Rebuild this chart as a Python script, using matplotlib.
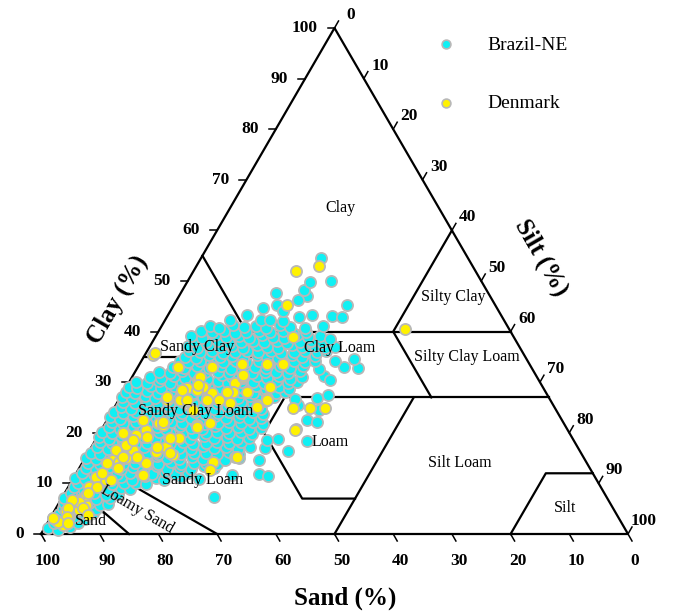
import matplotlib
matplotlib.use("Agg")
import matplotlib.pyplot as plt
import numpy as np

plt.rcParams['font.family'] = ['Liberation Serif', 'DejaVu Serif']

# (clay %, silt %) -- sand = 100 - clay - silt
brazil_pts = [
    (1.2, 0.6), (0.7, 2.5), (1.4, 4.3),
    (2.1, 1.2), (1.9, 3.3), (2.2, 5.2),
    (3.2, 0.4), (2.8, 2.2), (3.4, 4.0), (2.9, 6.1),
    (4.0, 1.0), (3.9, 3.0), (4.2, 5.1), (4.1, 6.8),
    (5.1, 1.2), (4.7, 3.1), (5.3, 5.0), (4.9, 6.9),
    (6.1, 0.8), (5.9, 2.9), (6.2, 5.0), (5.8, 7.1), (6.0, 8.4),
    (7.2, 0.3), (6.8, 2.2), (7.3, 4.1), (6.9, 6.0), (7.1, 8.2), (7.3, 25.9),
    (8.1, 1.1), (7.9, 3.1), (8.2, 5.0), (7.8, 7.1), (8.0, 9.2),
    (9.2, 1.0), (8.7, 3.0), (9.4, 5.1), (8.9, 7.0), (9.1, 9.0), (8.8, 10.8),
    (10.1, 1.2), (9.9, 3.1), (10.2, 5.1), (9.8, 7.2), (10.0, 9.1), (10.1, 11.2), (9.9, 12.9),
    (11.1, 0.3), (10.8, 2.1), (11.3, 4.0), (10.9, 6.2), (11.2, 8.0), (10.7, 10.1),
    (11.4, 12.0), (11.0, 14.1), (10.6, 15.6), (11.2, 18.3), (10.9, 21.4),
    (11.7, 26.7), (11.8, 31.3), (11.5, 33.0),
    (12.1, 1.0), (11.9, 3.1), (12.2, 5.1), (11.8, 7.0), (12.0, 9.2), (12.1, 11.1),
    (11.9, 13.0), (12.2, 15.1), (11.8, 17.0), (12.0, 19.1),
    (13.1, 1.1), (12.8, 3.0), (13.3, 5.0), (12.9, 7.1), (13.2, 9.0), (12.7, 11.0),
    (13.4, 13.1), (12.9, 15.0), (13.2, 17.0), (12.8, 19.2), (13.5, 21.0), (13.0, 23.0),
    (14.1, 1.0), (13.9, 3.1), (14.2, 5.0), (13.8, 7.1), (14.0, 9.0), (14.1, 11.1),
    (13.9, 13.0), (14.2, 15.1), (13.8, 17.0), (14.0, 19.1), (14.1, 21.0), (13.9, 23.1),
    (15.1, 0.2), (14.8, 2.0), (15.3, 4.1), (14.9, 6.0), (15.2, 8.1), (14.7, 10.0),
    (15.4, 12.0), (15.0, 14.0), (14.8, 16.1), (15.3, 18.0), (14.9, 20.1), (15.2, 22.0),
    (14.7, 24.0), (15.0, 26.2), (14.6, 29.8),
    (16.1, 0.4), (15.9, 2.1), (16.2, 4.0), (15.8, 6.1), (16.0, 8.0), (16.1, 10.1),
    (15.9, 12.0), (16.2, 14.1), (15.8, 16.0), (16.0, 18.1), (16.1, 20.0), (15.9, 22.1),
    (16.2, 24.0), (15.8, 25.9),
    (17.2, 1.0), (16.8, 3.0), (17.3, 5.1), (16.9, 7.0), (17.1, 9.0), (16.7, 11.1),
    (17.4, 13.0), (17.0, 15.0), (16.8, 17.1), (17.3, 19.0), (16.9, 21.1), (17.2, 23.0),
    (16.8, 25.2), (17.1, 27.0), (17.0, 29.6), (16.5, 33.8),
    (18.1, 1.0), (17.9, 3.1), (18.2, 5.0), (17.8, 7.1), (18.0, 9.0), (18.1, 11.1),
    (17.9, 13.0), (18.2, 15.1), (17.8, 17.0), (18.0, 19.1), (18.1, 21.0), (17.9, 23.1),
    (18.2, 25.0),
    (19.1, 0.3), (18.8, 2.1), (19.3, 4.0), (18.9, 6.1), (19.2, 8.0), (18.7, 10.0),
    (19.4, 12.1), (19.0, 14.0), (18.8, 16.0), (19.3, 18.1), (18.9, 20.0), (19.2, 22.1),
    (18.7, 24.0), (19.0, 26.0), (18.6, 29.2), (18.8, 31.0), (18.3, 36.2),
    (20.1, 0.4), (19.9, 2.1), (20.2, 4.0), (19.8, 6.1), (20.0, 8.0), (20.1, 10.1),
    (19.9, 12.0), (20.2, 14.1), (19.8, 16.0), (20.0, 18.1), (20.1, 20.0), (19.9, 22.1),
    (20.2, 24.0), (19.8, 26.1),
    (21.1, 1.0), (20.8, 3.1), (21.3, 5.0), (20.9, 7.0), (21.2, 9.1), (20.7, 11.0),
    (21.4, 13.0), (21.0, 15.1), (20.8, 17.0), (21.3, 19.0), (20.9, 21.1), (21.2, 23.0),
    (20.7, 25.0), (21.0, 27.0), (20.8, 33.0),
    (22.1, 1.0), (21.9, 3.1), (22.2, 5.0), (21.8, 7.1), (22.0, 9.0), (22.1, 11.1),
    (21.9, 13.0), (22.2, 15.1), (21.8, 17.0), (22.0, 19.1), (22.1, 21.0), (21.9, 23.1),
    (22.2, 25.0), (21.8, 26.9),
    (23.1, 0.2), (22.8, 2.0), (23.3, 4.1), (22.9, 6.0), (23.2, 8.0), (22.7, 10.1),
    (23.4, 12.0), (23.0, 14.0), (22.8, 16.1), (23.3, 18.0), (22.9, 20.0), (23.2, 22.1),
    (22.7, 24.0), (23.0, 26.0), (22.5, 34.1), (22.2, 36.0),
    (24.1, 0.4), (23.9, 2.1), (24.2, 4.0), (23.8, 6.1), (24.0, 8.0), (24.1, 10.1),
    (23.9, 12.0), (24.2, 14.1), (23.8, 16.0), (24.0, 18.1), (24.1, 20.0), (23.9, 22.1),
    (24.2, 24.0), (23.8, 25.9),
    (25.1, 1.0), (24.8, 3.0), (25.3, 5.1), (24.9, 7.0), (25.2, 9.0), (24.7, 11.1),
    (25.4, 13.0), (25.0, 15.0), (24.8, 17.0), (25.3, 19.1), (24.9, 21.0), (25.2, 23.0),
    (24.7, 25.1), (25.5, 31.0), (24.6, 35.0),
    (26.1, 1.0), (25.9, 3.1), (26.2, 5.0), (25.8, 7.1), (26.0, 9.0), (26.1, 11.1),
    (25.9, 13.0), (26.2, 15.1), (25.8, 17.0), (26.0, 19.1), (26.1, 21.0), (25.9, 23.1),
    (26.2, 25.0),
    (27.1, 0.2), (26.8, 2.1), (27.3, 4.0), (26.9, 6.0), (27.2, 8.1), (26.7, 10.0),
    (27.4, 12.0), (27.0, 14.1), (26.8, 16.0), (27.3, 18.0), (26.9, 20.1), (27.2, 22.0),
    (26.7, 24.0), (27.0, 26.2), (26.6, 30.0), (26.8, 33.6), (27.5, 35.2),
    (28.1, 0.4), (27.9, 2.1), (28.2, 4.0), (27.8, 6.1), (28.0, 8.0), (28.1, 10.1),
    (27.9, 12.0), (28.2, 14.1), (27.8, 16.0), (28.0, 18.1), (28.1, 20.0), (27.9, 22.1),
    (28.2, 24.0), (27.8, 26.1), (28.0, 27.6),
    (29.1, 0.4), (28.8, 2.0), (29.3, 4.1), (28.9, 6.0), (29.2, 8.0), (28.7, 10.1),
    (29.4, 12.0), (29.0, 14.0), (28.8, 16.1), (29.3, 18.0), (28.9, 20.0), (29.2, 22.1),
    (28.7, 24.0), (29.0, 26.0), (28.6, 28.0),
    (30.1, 1.2), (29.9, 3.1), (30.2, 5.0), (29.8, 7.1), (30.0, 9.0), (30.1, 11.1),
    (29.9, 13.0), (30.2, 15.1), (29.8, 17.0), (30.0, 19.1), (30.1, 21.0), (29.9, 23.1),
    (30.2, 25.0), (29.8, 27.1), (30.0, 28.6),
    (31.1, 3.0), (30.8, 5.0), (31.3, 7.0), (30.9, 9.1), (31.2, 11.0), (30.7, 13.0),
    (31.4, 15.1), (31.0, 17.0), (30.8, 19.0), (31.3, 21.1), (30.9, 23.0), (31.2, 25.0),
    (30.7, 27.1), (31.0, 29.0), (31.2, 32.6), (30.5, 34.0),
    (32.1, 4.0), (31.9, 6.1), (32.2, 8.0), (31.8, 10.1), (32.0, 12.0), (32.1, 14.1),
    (31.9, 16.0), (32.2, 18.1), (31.8, 20.0), (32.0, 22.1), (32.1, 24.0), (31.9, 26.1),
    (32.2, 28.0),
    (33.1, 6.0), (32.8, 8.0), (33.3, 10.0), (32.9, 12.1), (33.2, 14.0), (32.7, 16.0),
    (33.4, 18.1), (33.0, 20.0), (32.8, 22.0), (33.3, 24.1), (32.9, 26.0), (33.2, 28.0),
    (32.6, 31.0), (33.1, 35.0), (32.8, 37.6),
    (34.1, 6.6), (33.9, 8.1), (34.2, 10.0), (33.8, 12.1), (34.0, 14.0), (34.1, 16.1),
    (33.9, 18.0), (34.2, 20.1), (33.8, 22.0), (34.0, 24.1), (34.1, 26.0), (33.9, 28.1),
    (34.2, 29.5),
    (35.0, 7.0), (34.8, 9.0), (35.3, 11.0), (34.9, 13.1), (35.2, 15.0), (34.7, 17.0),
    (35.4, 19.1), (35.0, 21.0), (34.8, 23.0), (35.3, 25.1), (34.9, 27.0), (35.2, 29.0),
    (34.2, 33.0), (34.5, 36.0),
    (36.1, 7.2), (35.9, 9.1), (36.2, 11.0), (35.8, 13.1), (36.0, 15.0), (36.1, 17.1),
    (35.9, 19.0), (36.2, 21.1), (35.8, 23.0), (36.0, 25.1), (36.1, 27.0), (35.9, 29.1),
    (36.2, 30.4),
    (37.1, 6.5), (36.8, 8.2), (37.3, 10.0), (36.9, 12.1), (37.2, 14.0), (36.7, 16.0),
    (37.4, 18.1), (37.0, 20.0), (36.8, 22.0), (37.3, 24.1), (36.9, 26.0), (37.2, 28.0),
    (36.7, 30.0), (37.0, 31.6),
    (38.1, 7.0), (37.9, 9.1), (38.2, 11.0), (37.8, 13.1), (38.0, 15.0), (38.1, 17.1),
    (37.9, 19.0), (38.2, 21.1), (37.8, 23.0), (38.0, 25.1), (38.1, 27.0), (37.9, 29.0),
    (39.1, 6.0), (38.8, 8.1), (39.3, 10.0), (38.9, 12.0), (39.2, 14.1), (38.7, 16.0),
    (39.4, 18.0), (39.0, 20.1), (38.8, 22.0), (39.3, 24.0), (38.9, 26.1), (39.2, 28.0),
    (38.6, 30.0),
    (40.1, 7.2), (39.9, 9.1), (40.2, 11.0), (39.8, 13.1), (40.0, 15.0), (40.1, 17.1),
    (39.9, 19.0), (40.2, 21.1), (39.8, 23.0), (40.0, 25.1),
    (41.1, 8.2), (40.8, 10.0), (41.3, 12.0), (40.9, 14.1), (41.2, 16.0), (40.7, 18.0),
    (41.4, 20.1), (41.0, 22.0), (40.8, 24.6), (41.2, 27.5),
    (42.3, 11.1), (42.3, 16.4), (42.3, 17.9), (42.1, 20.2), (43.3, 24.6), (43.1, 28.1),
    (42.9, 29.9), (43.2, 13.5), (42.8, 22.5),
    (45.3, 17.6), (44.1, 19.2), (45.3, 29.5), (44.6, 15.5),
    (47.6, 16.2), (47.0, 21.8), (46.2, 20.7), (48.2, 20.7),
    (49.8, 20.9), (50.0, 24.4), (54.5, 20.4),
]

denmark_pts = [
    (2.8, 1.2), (1.8, 2.8), (3.4, 3.1), (4.7, 4.1), (5.7, 4.8), (4.5, 2.0),
    (6.7, 3.1), (7.7, 3.8), (9.3, 3.5), (10.3, 4.6), (10.7, 5.7), (11.3, 3.7),
    (14.6, 5.0), (14.2, 6.2), (15.0, 7.0), (16.6, 7.4), (17.6, 5.7), (16.6, 4.5),
    (20.0, 4.0), (19.6, 6.4), (20.6, 7.6), (16.2, 11.5), (17.2, 12.7), (15.6, 14.7),
    (19.0, 14.0), (14.0, 10.9), (11.7, 11.6), (21.9, 9.1),
    (35.4, 1.4), (33.0, 6.8), (30.4, 11.5), (28.9, 10.5), (33.0, 12.6), (29.0, 13.1),
    (29.8, 18.1), (28.1, 21.1), (26.5, 8.3), (26.5, 10.5), (26.9, 14.9), (24.5, 13.7),
    (22.5, 6.1), (21.5, 10.0), (21.5, 15.9),
    (27.9, 15.2), (25.9, 19.3), (25.5, 24.3), (29.1, 24.5), (26.9, 25.1), (31.0, 18.9),
    (21.9, 17.8), (24.9, 30.4), (24.9, 33.4), (24.9, 36.0), (20.6, 33.0), (14.2, 22.2),
    (15.2, 25.4), (12.6, 22.5),
    (53.0, 20.9), (52.0, 17.4), (45.3, 19.3), (38.9, 23.4), (33.6, 17.4), (33.6, 21.7),
    (33.6, 24.4), (31.4, 18.7), (40.5, 41.7),
    (31.0, 11.6), (28.5, 12.4), (28.5, 9.8), (27.1, 8.0), (26.5, 11.7), (26.5, 15.1),
    (26.5, 17.0), (28.1, 18.7), (26.5, 25.3), (25.1, 24.3), (21.1, 16.1), (22.1, 9.7),
    (18.6, 6.4), (19.2, 8.5), (19.0, 12.5), (17.2, 11.2), (15.2, 6.4), (15.2, 8.8),
    (16.0, 14.0), (15.2, 25.8), (14.0, 4.2), (13.0, 6.6), (12.1, 4.4), (10.7, 6.5),
    (9.3, 4.9), (8.1, 4.0), (6.3, 3.4), (6.7, 1.9), (5.1, 2.0), (5.1, 4.6),
    (3.8, 6.1), (3.4, 2.7), (2.4, 1.7), (2.2, 3.5), (3.2, 0.4), (35.8, 1.5),
    (29.4, 12.0), (28.1, 17.7),
]

# texture class boundaries, (clay, silt) polylines
boundaries = [
    [(55, 0), (27, 28)],
    [(35, 0), (35, 20)],
    [(40, 15), (40, 60)],
    [(60, 40), (40, 40), (27, 53)],
    [(27, 28), (27, 73)],
    [(20, 0), (20, 28), (27, 28)],
    [(20, 28), (7, 41), (7, 50)],
    [(0, 50), (27, 50)],
    [(0, 80), (12, 80), (12, 88)],
    [(15, 0), (0, 30)],
    [(10, 0), (0, 15)],
]

class_names = ["Clay", "Silty Clay", "Silty Clay Loam", "Sandy Clay", "Clay Loam",
               "Sandy Clay Loam", "Loam", "Silt Loam", "Sandy Loam", "Loamy Sand",
               "Sand", "Silt"]
# label anchors in pixels of the original figure
class_px = [(340, 208), (453, 297), (467, 357), (197, 347), (340, 348),
            (196, 411), (330, 442), (460, 463), (203, 480), (137, 509),
            (91, 521), (565, 508)]
class_rot = [0, 0, 0, 0, 0, 0, 0, 0, 0, -30, 0, 0]

ticks = list(range(0, 101, 10))


def tern(clay, silt):
    clay = np.asarray(clay, dtype=float)
    silt = np.asarray(silt, dtype=float)
    return silt / 100 + clay / 200, clay / 100


def px(xp, yp):
    return (xp - 41) / 587, (534 - yp) / 506


fig = plt.figure(figsize=(6.79, 6.14), dpi=100)
ax = fig.add_axes([0, 0, 1, 1])
ax.set_xlim(-41 / 587, (679 - 41) / 587)
ax.set_ylim(-80 / 506, 534 / 506)
ax.axis('off')

# outline
ax.plot([0, 1, 0.5, 0], [0, 0, 1, 0], color='black', lw=1.6, zorder=1)
for line in boundaries:
    c = [p[0] for p in line]
    s = [p[1] for p in line]
    x, y = tern(c, s)
    ax.plot(x, y, color='black', lw=1.6, zorder=1)

dx = 1 / 587
dy = 1 / 506
lab_font = dict(fontsize=12.5, fontweight='bold')
for v in ticks:
    # sand (bottom)
    x0 = 1 - v / 100
    ax.plot([x0, x0 + 4 * dx], [0, -7 * dy], color='black', lw=1.1)
    ax.text(x0 + 7 * dx, -27 * dy, str(v), ha='center', va='center', **lab_font)
    # clay (left)
    x0, y0 = v / 200, v / 100
    ax.plot([x0, x0 - 7 * dx], [y0, y0], color='black', lw=1.1)
    ax.text(x0 - 17 * dx, y0, str(v), ha='right', va='center', **lab_font)
    # silt (right)
    x0, y0 = tern(100 - v, v)
    ax.plot([x0, x0 + 4 * dx], [y0, y0 + 7 * dy], color='black', lw=1.1)
    ax.text(x0 + 16 * dx, y0 + 13 * dy, str(v), ha='center', va='center', **lab_font)

bc = [p[0] for p in brazil_pts]
bs = [p[1] for p in brazil_pts]
dc = [p[0] for p in denmark_pts]
ds = [p[1] for p in denmark_pts]
bx, by = tern(bc, bs)
ddx, ddy = tern(dc, ds)
ax.scatter(bx, by, s=64, c='#10f0f4', edgecolors='#b8b8b8', linewidths=1.3, zorder=2)
ax.scatter(ddx, ddy, s=64, c='#fff200', edgecolors='#b8b8b8', linewidths=1.3, zorder=3)

for name, (xp, yp), rot in zip(class_names, class_px, class_rot):
    x, y = px(xp, yp)
    ax.text(x, y, name, ha='center', va='center', fontsize=11.5, rotation=rot, zorder=4)

# axis titles
x, y = px(345, 598)
ax.text(x, y, 'Sand (%)', ha='center', va='center', fontsize=18, fontweight='bold')
x, y = px(117, 300)
ax.text(x, y, 'Clay (%)', ha='center', va='center', fontsize=18, fontweight='bold', rotation=60)
x, y = px(541, 258)
ax.text(x, y, 'Silt (%)', ha='center', va='center', fontsize=18, fontweight='bold', rotation=-60)

# legend
for (name, col, yp) in [('Brazil-NE', '#10f0f4', 44), ('Denmark', '#fff200', 103)]:
    x, y = px(446, yp)
    ax.scatter([x], [y], s=40, c=col, edgecolors='#b8b8b8', linewidths=1.2, zorder=5)
    x, y = px(487, yp + 1)
    ax.text(x, y, name, ha='left', va='center', fontsize=14)

fig.savefig('out.png', dpi=100)
